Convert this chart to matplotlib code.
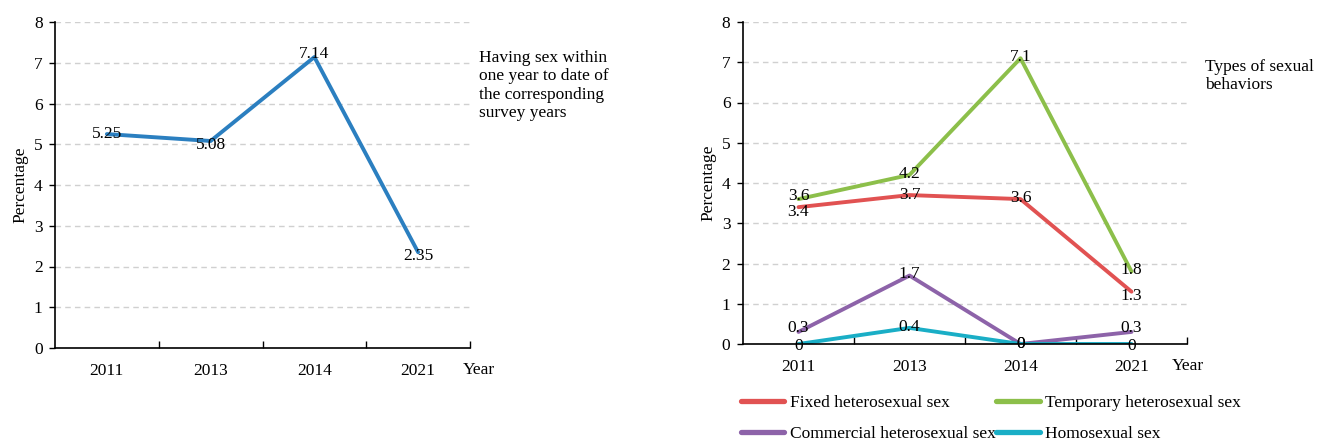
import matplotlib
matplotlib.use("Agg")
import matplotlib.pyplot as plt
from matplotlib.lines import Line2D

plt.rcParams['font.family'] = ['Liberation Serif', 'DejaVu Serif']
FS = 12.5
plt.rcParams['font.size'] = FS

years = ["2011", "2013", "2014", "2021"]
overall = [5.25, 5.08, 7.14, 2.35]
overall_labels = ["5.25", "5.08", "7.14", "2.35"]

fixed = [3.4, 3.7, 3.6, 1.3]
temporary = [3.6, 4.2, 7.1, 1.8]
commercial = [0.3, 1.7, 0.0, 0.3]
homosexual = [0.0, 0.4, 0.0, 0.0]
series_names = ["Fixed heterosexual sex", "Temporary heterosexual sex",
                "Commercial heterosexual sex", "Homosexual sex"]
series_colors = ["#e15252", "#8cbf4a", "#8d63a9", "#1aaec6"]

W, H = 1319, 441
fig = plt.figure(figsize=(W / 100, H / 100), dpi=100)

def style_axes(ax, year_dx):
    ax.set_ylim(0, 8)
    ax.set_xlim(-0.5, 3.5)
    ax.set_yticks(range(0, 9))
    ax.spines['top'].set_visible(False)
    ax.spines['right'].set_visible(False)
    ax.spines['left'].set_linewidth(1.2)
    ax.spines['bottom'].set_linewidth(1.2)
    ax.yaxis.grid(True, linestyle=(0, (4, 3)), color='#d0d0d0', linewidth=1)
    ax.set_axisbelow(True)
    ax.tick_params(axis='y', direction='out', length=4, width=1, pad=5, labelsize=FS)
    ax.set_xticks([0.5, 1.5, 2.5, 3.5])
    ax.set_xticks([0, 1, 2, 3], minor=True)
    ax.set_xticklabels([])
    ax.set_xticklabels(years, minor=True)
    ax.tick_params(axis='x', which='major', direction='in', length=5, width=1)
    ax.tick_params(axis='x', which='minor', length=0, pad=11, labelsize=FS)
    ax.set_ylabel("Percentage", fontsize=FS, labelpad=4)
    ax.annotate("Year", xy=(1.0, 0.0), xycoords='axes fraction', xytext=(year_dx, -15.5),
                textcoords='offset points', ha='left', va='center', fontsize=FS)

# Left chart
ax1 = fig.add_axes([55 / W, 1 - 348 / H, (470 - 55) / W, (348 - 22) / H])
style_axes(ax1, -5)
x = list(range(len(years)))
ax1.plot(x, overall, color='#2b7fc0', linewidth=2.8, solid_capstyle='round')
offsets1 = [0.0, -0.1, 0.08, -0.1]
for xi, v, lab, off in zip(x, overall, overall_labels, offsets1):
    ax1.text(xi, v + off, lab, ha='center', va='center', fontsize=FS)
ax1.text(1.022, 0.915, "Having sex within\none year to date of\nthe corresponding\nsurvey years",
         transform=ax1.transAxes, ha='left', va='top', fontsize=FS, linespacing=1.2)

# Right chart
ax2 = fig.add_axes([743 / W, 1 - 344 / H, (1187 - 743) / W, (344 - 22) / H])
style_axes(ax2, -11)
all_series = [fixed, temporary, commercial, homosexual]
for vals, col, name in zip(all_series, series_colors, series_names):
    ax2.plot(x, vals, color=col, linewidth=2.8, solid_capstyle='round', label=name)

label_offsets = {
    0: [-0.12, 0.0, 0.03, -0.1],    # fixed
    1: [0.08, 0.03, 0.03, 0.05],    # temporary
    2: [0.1, 0.03, 0.0, 0.1],       # commercial
    3: [-0.05, 0.03, 0.0, -0.05],   # homosexual
}
for si, vals in enumerate(all_series):
    for xi, v in enumerate(vals):
        lab = "0" if v == 0 else f"{v:g}"
        ax2.text(xi, v + label_offsets[si][xi], lab, ha='center', va='center', fontsize=FS)

ax2.text(1.04, 0.885, "Types of sexual\nbehaviors", transform=ax2.transAxes,
         ha='left', va='top', fontsize=FS, linespacing=1.2)

handles = [Line2D([0], [0], color=c, linewidth=3.8, solid_capstyle='round') for c in series_colors]
order = [0, 2, 1, 3]
fig.legend([handles[i] for i in order], [series_names[i] for i in order],
           loc='upper left', bbox_to_anchor=(741 / W, 1 - 395 / H),
           ncol=2, frameon=False, fontsize=FS, handlelength=2.5, handletextpad=0.3,
           columnspacing=0.05, labelspacing=0.85, borderaxespad=0, borderpad=0)

fig.savefig("out.png", dpi=100)
